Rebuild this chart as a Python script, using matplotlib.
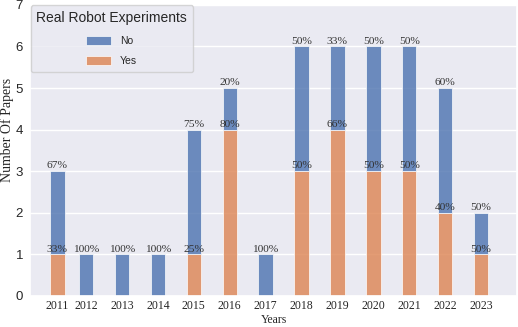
import numpy as np
import seaborn as sns
from matplotlib import pyplot as plt

years = ["2011", "2012", "2013", "2014", "2015", "2016", "2017",
         "2018", "2019", "2020", "2021", "2022", "2023"]
yes_counts = [1, 0, 0, 0, 1, 4, 0, 3, 4, 3, 3, 2, 1]
no_counts = [2, 1, 1, 1, 3, 1, 1, 3, 2, 3, 3, 3, 1]
no_pct = ["67%", "100%", "100%", "100%", "75%", "20%", "100%",
          "50%", "33%", "50%", "50%", "60%", "50%"]
yes_pct = ["33%", "", "", "", "25%", "80%", "",
           "50%", "66%", "50%", "50%", "40%", "50%"]

sns.set_theme(style="darkgrid")
serif = ["Liberation Serif", "DejaVu Serif"]
sans = ["Liberation Sans", "DejaVu Sans"]

fig = plt.figure(figsize=(5.18, 3.27), dpi=100)
ax = fig.add_axes([0.058, 0.095, 0.94, 0.89])

x = np.arange(len(years), dtype=float)
x[0] += 0.2  # first bar sits a bit closer to the second in the original
yes = np.array(yes_counts)
no = np.array(no_counts)
w = 0.4

ax.bar(x, yes, w, color="#DD8452", alpha=0.8, edgecolor="white", linewidth=0.6, label="Yes", zorder=2)
ax.bar(x, no, w, bottom=yes, color="#4C72B0", alpha=0.8, edgecolor="white", linewidth=0.6, label="No", zorder=2)

for xi, y, n, lab_n, lab_y in zip(x, yes, no, no_pct, yes_pct):
    ax.text(xi, y + n + 0.02, lab_n, ha="center", va="bottom", fontsize=8.2,
            family=serif, color="#333333", zorder=3)
    if lab_y:
        ax.text(xi, y + 0.02, lab_y, ha="center", va="bottom", fontsize=8.2,
                family=serif, color="#333333", zorder=3)

ax.set_xlim(-0.56, 13.0)
ax.set_ylim(0, 7)
ax.set_xticks(x)
ax.set_xticklabels(years, family=serif, fontsize=8.5)
for t in ax.get_yticklabels():
    t.set_family(sans)
    t.set_fontsize(9.5)
ax.tick_params(axis="both", length=0)
ax.tick_params(axis="x", pad=3)
ax.tick_params(axis="y", pad=5)
ax.grid(False, axis="x")
ax.set_xlabel("Years", family=serif, fontsize=8.5, labelpad=1.5)
ax.set_ylabel("Number Of Papers", family=serif, fontsize=10)
ax.yaxis.set_label_coords(-0.032, 0.57)

handles, labels = ax.get_legend_handles_labels()
leg = ax.legend(handles[::-1], labels[::-1], title="Real Robot Experiments",
                loc="upper left", prop={"family": sans, "size": 7.5},
                title_fontproperties={"family": sans, "size": 10},
                frameon=True, borderaxespad=0.05, labelspacing=1.0,
                handlelength=2.4, handleheight=0.95, borderpad=0.55)

plt.savefig("out.png", dpi=100)
